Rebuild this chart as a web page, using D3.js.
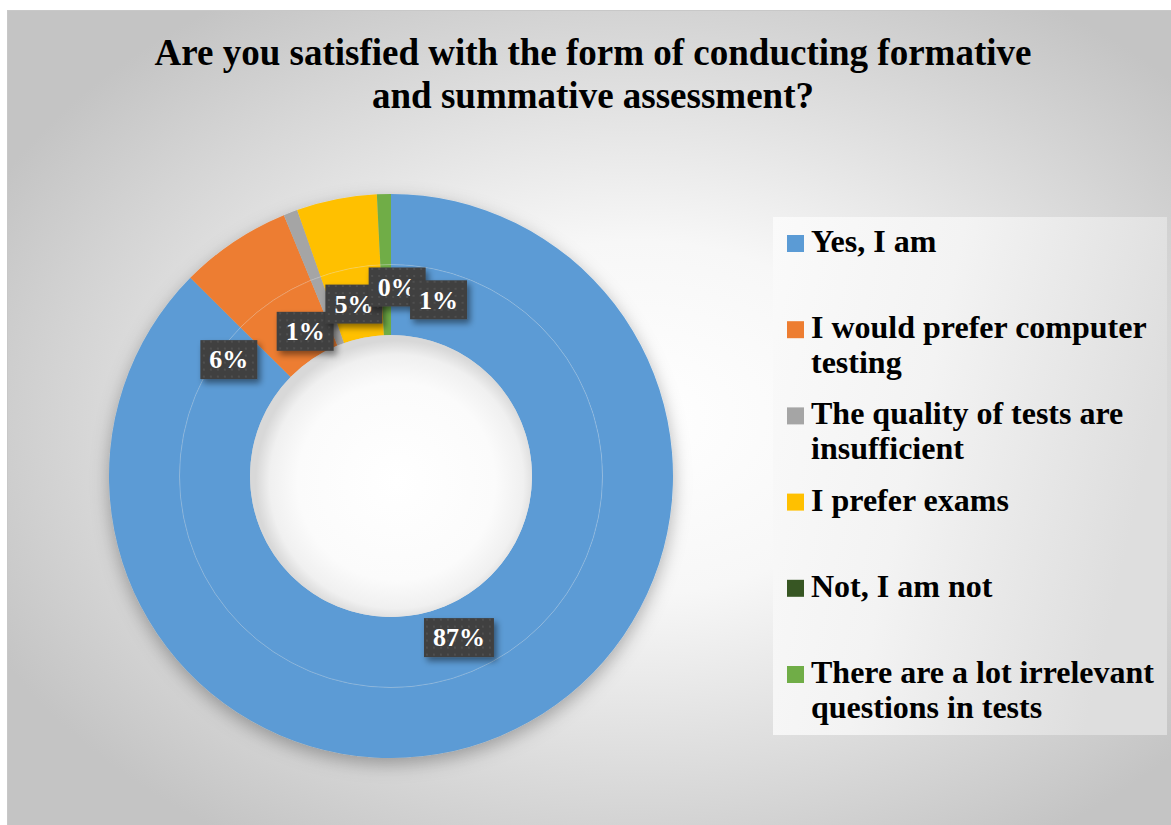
<!DOCTYPE html>
<html>
<head>
<meta charset="utf-8">
<script src="https://cdn.jsdelivr.net/npm/d3@7"></script>
<style>
  body { margin: 0; background: #ffffff; }
  svg { display: block; }
  .serif { font-family: "Liberation Serif", "DejaVu Serif", "Times New Roman", Times, serif; font-weight: bold; }
</style>
</head>
<body>
<svg></svg>
<script>
const width = 1171;
const height = 825;

// chart data (percent of answers)
const categories = [
  "Yes, I am",
  "I would prefer computer testing",
  "The quality of tests are insufficient",
  "I prefer exams",
  "Not, I am not",
  "There are a lot irrelevant questions in tests"
];
const values = [87.4, 6.4, 0.8, 4.6, 0, 0.8];
const colors = ["#5B9BD5", "#ED7D31", "#A5A5A5", "#FFC000", "#375623", "#70AD47"];
const titleLines = [
  "Are you satisfied with the form of conducting formative",
  "and summative assessment?"
];

// layout
const cx = 391, cy = 476;
const rHole = 141, rMid = 211.5, rOuter = 282;
// Excel pushed the crowded labels apart; these are the shifts it used (px)
const labelNudge = [[0, -1], [-64, 30], [-23, 20], [-3, 1], [15, -13], [52, 0]];

let svg = d3.select("svg")
    .attr("width", width)
    .attr("height", height);

let defs = svg.append("defs");

//background gradient
let bg = defs.append("radialGradient")
    .attr("id", "bgGrad")
    .attr("cx", "0.54").attr("cy", "0.5").attr("r", "0.62");
bg.append("stop").attr("offset", "0").attr("stop-color", "#ffffff");
bg.append("stop").attr("offset", "0.35").attr("stop-color", "#f7f7f7");
bg.append("stop").attr("offset", "1").attr("stop-color", "#c4c4c4");

let lg = defs.append("linearGradient")
    .attr("id", "legGrad")
    .attr("x1", "0").attr("y1", "0").attr("x2", "1").attr("y2", "0.3");
lg.append("stop").attr("offset", "0").attr("stop-color", "#fafafa");
lg.append("stop").attr("offset", "0.45").attr("stop-color", "#f3f3f3");
lg.append("stop").attr("offset", "1").attr("stop-color", "#dedede");

let holeGrad = defs.append("radialGradient")
    .attr("id", "holeGrad")
    .attr("cx", "0.52").attr("cy", "0.52").attr("r", "0.5");
holeGrad.append("stop").attr("offset", "0").attr("stop-color", "#ffffff");
holeGrad.append("stop").attr("offset", "0.7").attr("stop-color", "#fbfbfb");
holeGrad.append("stop").attr("offset", "0.9").attr("stop-color", "#f0f0f0");
holeGrad.append("stop").attr("offset", "1").attr("stop-color", "#d8d8d8");

let shadow = defs.append("filter")
    .attr("id", "ringShadow")
    .attr("x", "-20%").attr("y", "-20%").attr("width", "140%").attr("height", "140%");
shadow.append("feDropShadow")
    .attr("dx", 0).attr("dy", 6)
    .attr("stdDeviation", 9)
    .attr("flood-color", "#000")
    .attr("flood-opacity", 0.3);

let boxShadow = defs.append("filter")
    .attr("id", "boxShadow")
    .attr("x", "-30%").attr("y", "-30%").attr("width", "160%").attr("height", "170%");
boxShadow.append("feDropShadow")
    .attr("dx", 3).attr("dy", 4)
    .attr("stdDeviation", 3)
    .attr("flood-color", "#000")
    .attr("flood-opacity", 0.45);

let dots = defs.append("pattern")
    .attr("id", "dots")
    .attr("width", 7).attr("height", 7)
    .attr("patternUnits", "userSpaceOnUse");
dots.append("rect").attr("width", 7).attr("height", 7).attr("fill", "#404040");
dots.append("rect").attr("x", 2).attr("y", 2).attr("width", 2).attr("height", 2).attr("fill", "#4f4f4f");

//chart area
svg.append("rect")
    .attr("x", 7.5).attr("y", 10.5)
    .attr("width", width - 7).attr("height", height - 10)
    .attr("fill", "url(#bgGrad)")
    .attr("stroke", "#c8c8c8");

//title
svg.append("text")
    .attr("class", "serif")
    .attr("x", 593)
    .attr("y", 65)
    .attr("text-anchor", "middle")
    .style("font-size", "37px")
    .style("fill", "#000")
    .selectAll("tspan")
    .data(titleLines)
    .enter()
    .append("tspan")
        .attr("x", 593)
        .attr("dy", (d, i) => i === 0 ? 0 : 43)
        .text(d => d);

//doughnut: two rings with the same series
let pie = d3.pie().sort(null).value(d => d);
let arcs = pie(values);

let ringG = svg.append("g")
    .attr("transform", `translate(${cx}, ${cy})`);

let shadowG = ringG.append("g").attr("filter", "url(#ringShadow)");
let rings = [[rMid, rOuter], [rHole, rMid]];
rings.forEach(r => {
    let arc = d3.arc().innerRadius(r[0]).outerRadius(r[1]);
    shadowG.append("g")
        .selectAll("path")
        .data(arcs)
        .enter()
        .append("path")
            .attr("d", arc)
            .attr("fill", (d, i) => colors[i]);
});

// faint border between the two rings
ringG.append("circle")
    .attr("r", rMid)
    .attr("fill", "none")
    .attr("stroke", "#ffffff")
    .attr("stroke-opacity", 0.22)
    .attr("stroke-width", 1);

// hole
ringG.append("circle")
    .attr("r", rHole)
    .attr("fill", "url(#holeGrad)");

//data labels on the inner ring
let labelArc = d3.arc().innerRadius(rHole).outerRadius(rMid);
let labels = ringG.selectAll("g.label")
    .data(arcs)
    .enter()
    .append("g")
        .attr("class", "label")
        .attr("transform", (d, i) => {
            let c = labelArc.centroid(d);
            return `translate(${c[0] + labelNudge[i][0]}, ${c[1] + labelNudge[i][1]})`;
        });

labels.each(function(d) {
    let g = d3.select(this);
    let t = g.append("text")
        .attr("class", "serif")
        .attr("text-anchor", "middle")
        .attr("dy", "0.34em")
        .style("font-size", "26px")
        .style("fill", "#ffffff")
        .text(Math.round(d.data) + "%");
    let w = t.node().getComputedTextLength() + 18;
    g.insert("rect", "text")
        .attr("x", -w / 2).attr("y", -19.5)
        .attr("width", w).attr("height", 39)
        .attr("fill", "url(#dots)")
        .attr("filter", "url(#boxShadow)");
});

//legend
let legX = 773, legY = 217, legW = 394, legH = 518;
svg.append("rect")
    .attr("x", legX).attr("y", legY)
    .attr("width", legW).attr("height", legH)
    .attr("fill", "url(#legGrad)");

let itemY = d3.scaleLinear()
    .domain([0, categories.length - 1])
    .range([252, 683]);

let legend = svg.append("g")
    .selectAll("g")
    .data(categories)
    .enter()
    .append("g")
        .attr("transform", (d, i) => `translate(${legX + 14}, ${itemY(i)})`);

legend.append("rect")
    .attr("x", 0).attr("y", -17)
    .attr("width", 17).attr("height", 17)
    .attr("fill", (d, i) => colors[i]);

legend.append("text")
    .attr("class", "serif")
    .attr("x", 24)
    .attr("y", 0)
    .style("font-size", "32px")
    .style("fill", "#000")
    .each(function(d) { wrap(d3.select(this), d, 352); });

function wrap(text, str, maxW) {
    let words = str.split(" ");
    let line = [];
    let tspan = text.append("tspan").attr("x", 24).attr("dy", 0);
    words.forEach(word => {
        line.push(word);
        tspan.text(line.join(" "));
        if (tspan.node().getComputedTextLength() > maxW && line.length > 1) {
            line.pop();
            tspan.text(line.join(" "));
            line = [word];
            tspan = text.append("tspan").attr("x", 24).attr("dy", 35).text(word);
        }
    });
}
</script>
</body>
</html>
